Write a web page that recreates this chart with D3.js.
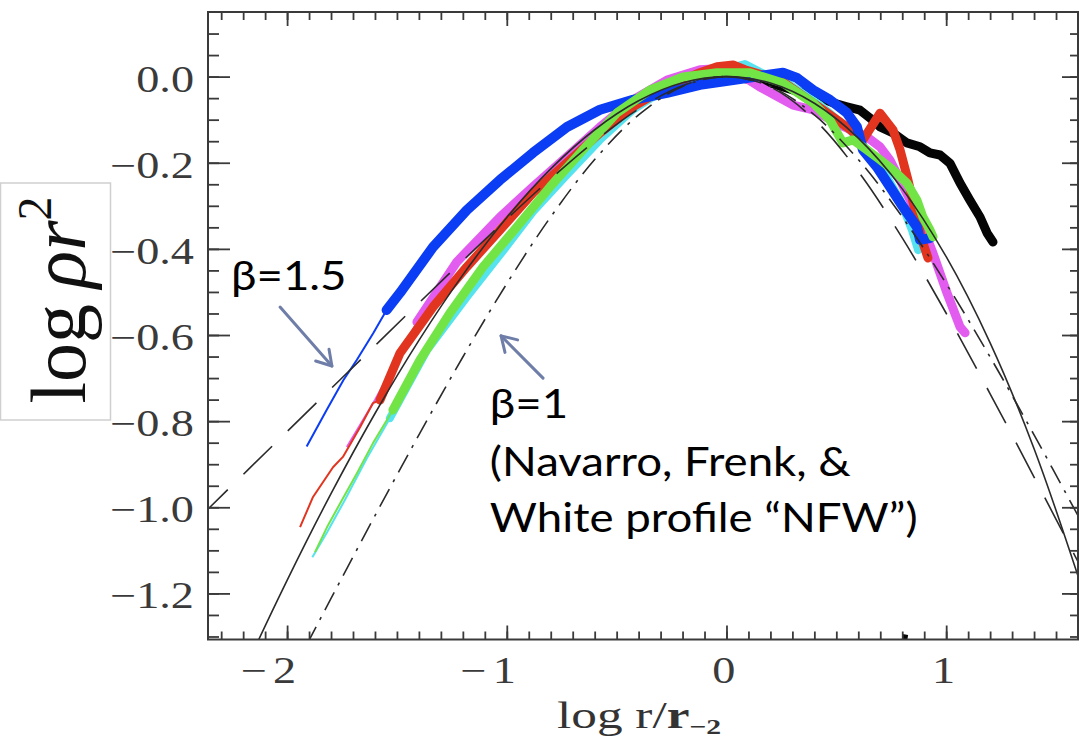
<!DOCTYPE html>
<html><head><meta charset="utf-8">
<script src="https://cdn.jsdelivr.net/npm/d3@7"></script>
<style>body{margin:0;background:#fff}svg{display:block}</style></head>
<body><svg id="c" width="1081" height="744"></svg>
<script>
// ---------- data ----------
const modelLogR = [-2.4,-2.2,-2.0,-1.8,-1.6,-1.4,-1.2,-1.0,-0.8,-0.6,-0.4,-0.2,0,0.2,0.4,0.6,0.8,1.0,1.2,1.4,1.6];
const einastoFit = [-1.6136,-1.3851,-1.1696,-0.9683,-0.7822,-0.6125,-0.4603,-0.3270,-0.2142,-0.1234,-0.0562,-0.0144,0,-0.0151,-0.0620,-0.1430,-0.2607,-0.4182,-0.6182,-0.8640,-1.1594];
const nfwBeta1 = [-1.8014,-1.6034,-1.4066,-1.2116,-1.0195,-0.8319,-0.6511,-0.4807,-0.3257,-0.1926,-0.0890,-0.0228,0,-0.0228,-0.0890,-0.1926,-0.3257,-0.4807,-0.6511,-0.8319,-1.0195];
const mooreBeta15 = [-1.0240,-0.9240,-0.8241,-0.7244,-0.6248,-0.5256,-0.4273,-0.3307,-0.2374,-0.1504,-0.0753,-0.0210,0,-0.0244,-0.0997,-0.2204,-0.3745,-0.5495,-0.7364,-0.9297,-1.1263];

const blueThin = [[-1.911,-0.859],[-1.820,-0.774],[-1.744,-0.705],[-1.683,-0.658],[-1.608,-0.596],[-1.547,-0.542]];
const blueThick = [[-1.547,-0.542],[-1.486,-0.502],[-1.336,-0.396],[-1.182,-0.310],[-1.031,-0.240],[-0.881,-0.177],[-0.726,-0.117],[-0.576,-0.077],[-0.426,-0.054],[-0.271,-0.038],[-0.121,-0.019],[0.030,-0.008],[0.184,0.004],[0.257,0.009],[0.321,-0.003],[0.394,-0.031],[0.471,-0.054],[0.548,-0.084],[0.594,-0.117],[0.621,-0.170],[0.685,-0.210],[0.744,-0.256],[0.803,-0.302],[0.867,-0.349],[0.881,-0.379],[0.926,-0.375]];

const redThin = [[-1.941,-1.046],[-1.882,-0.976],[-1.791,-0.907],[-1.746,-0.883],[-1.668,-0.814],[-1.609,-0.758],[-1.577,-0.751]];
const redThick = [[-1.577,-0.751],[-1.486,-0.642],[-1.336,-0.535],[-1.182,-0.442],[-1.031,-0.356],[-0.881,-0.270],[-0.726,-0.200],[-0.576,-0.131],[-0.426,-0.070],[-0.271,-0.024],[-0.121,0.009],[-0.043,0.023],[0.030,0.027],[0.084,0.016],[0.244,-0.008],[0.394,-0.061],[0.548,-0.117],[0.621,-0.147],[0.699,-0.085],[0.758,-0.124],[0.790,-0.170],[0.826,-0.240],[0.858,-0.310],[0.890,-0.379],[0.917,-0.421]];

const magentaThin = [[-1.728,-0.860],[-1.668,-0.809],[-1.600,-0.751],[-1.532,-0.688],[-1.464,-0.623],[-1.409,-0.570]];
const magentaThick = [[-1.409,-0.570],[-1.227,-0.430],[-1.031,-0.326],[-0.881,-0.256],[-0.726,-0.186],[-0.576,-0.117],[-0.426,-0.054],[-0.271,-0.008],[-0.121,0.016],[0.016,0.020],[0.152,-0.024],[0.303,-0.066],[0.394,-0.077],[0.516,-0.112],[0.639,-0.140],[0.699,-0.163],[0.744,-0.194],[0.790,-0.240],[0.835,-0.286],[0.881,-0.333],[0.940,-0.410],[1.004,-0.503],[1.063,-0.581],[1.086,-0.595]];

const greenThin = [[-1.873,-1.104],[-1.818,-1.046],[-1.750,-0.983],[-1.682,-0.921],[-1.609,-0.851],[-1.518,-0.774]];
const greenThick = [[-1.518,-0.774],[-1.395,-0.658],[-1.259,-0.549],[-1.108,-0.442],[-0.954,-0.349],[-0.803,-0.256],[-0.653,-0.170],[-0.498,-0.084],[-0.348,-0.031],[-0.198,-0.001],[-0.043,0.009],[0.107,0.009],[0.257,-0.015],[0.394,-0.061],[0.471,-0.101],[0.530,-0.154],[0.576,-0.147],[0.639,-0.170],[0.699,-0.193],[0.758,-0.217],[0.821,-0.247],[0.867,-0.287],[0.894,-0.326],[0.926,-0.356],[0.940,-0.372]];

const cyanThin = [[-1.885,-1.116],[-1.818,-1.058],[-1.737,-0.983],[-1.637,-0.886],[-1.532,-0.793]];
const cyanThick = [[-1.532,-0.793],[-1.363,-0.635],[-1.182,-0.512],[-1.031,-0.414],[-0.881,-0.314],[-0.726,-0.228],[-0.576,-0.147],[-0.426,-0.077],[-0.271,-0.026],[-0.121,0.004],[0.016,0.020],[0.084,0.029],[0.152,0.011],[0.289,-0.019],[0.426,-0.066],[0.562,-0.124],[0.699,-0.205],[0.790,-0.286],[0.844,-0.356],[0.872,-0.403]];

const blackThick = [[-0.440,-0.075],[-0.348,-0.045],[-0.212,-0.017],[-0.075,-0.003],[0.061,-0.003],[0.198,-0.015],[0.335,-0.036],[0.426,-0.049],[0.485,-0.061],[0.548,-0.070],[0.608,-0.078],[0.653,-0.096],[0.699,-0.117],[0.758,-0.131],[0.821,-0.154],[0.881,-0.163],[0.926,-0.177],[0.972,-0.182],[1.017,-0.201],[1.063,-0.247],[1.108,-0.287],[1.154,-0.326],[1.186,-0.363],[1.213,-0.384]];
const blackStray = [[0.800,-1.300],[0.825,-1.302]];

const xMajorTicks = [-2,-1,0,1];
const xTickLabels = ["\u22122","\u22121","0","1"];
const yMajorTicks = [0,-0.2,-0.4,-0.6,-0.8,-1.0,-1.2];
const yTickLabels = ["0.0","\u22120.2","\u22120.4","\u22120.6","\u22120.8","\u22121.0","\u22121.2"];

const annoText = ["\u03b2=1.5","\u03b2=1","(Navarro, Frenk, &","White profile \u201cNFW\u201d)"];
const annoTextPos = [[-2.255,-0.496],[-1.077,-0.793],[-1.077,-0.928],[-1.077,-1.058]];
const arrows = [ {from:[-2.032,-0.535], to:[-1.796,-0.672]}, {from:[-0.835,-0.700], to:[-1.026,-0.602]} ];

// ---------- layout ----------
const svg = d3.select("#c");
const L=208, R=1078, T=12, B=639.5;
const x = d3.scaleLinear().domain([-2.36,1.6]).range([L,R]);
const y = d3.scaleLinear().domain([-1.307,0.15]).range([B,T]);

svg.append("defs").append("clipPath").attr("id","clip")
  .append("rect").attr("x",L).attr("y",T).attr("width",R-L).attr("height",B-T);

const plot = svg.append("g").attr("clip-path","url(#clip)");
const lineLin = d3.line().x(d=>x(d[0])).y(d=>y(d[1])).curve(d3.curveLinear);
const lineSmooth = d3.line().x(d=>x(d[0])).y(d=>y(d[1])).curve(d3.curveCatmullRom);

const series = [
  {thin:null, thick:blackThick, color:"#050505", w:9},
  {thin:magentaThin, thick:magentaThick, color:"#e35cf0", w:9},
  {thin:cyanThin, thick:cyanThick, color:"#55e3ef", w:8},
  {thin:redThin, thick:redThick, color:"#e2351f", w:9},
  {thin:blueThin, thick:blueThick, color:"#0b3df5", w:10},
  {thin:greenThin, thick:greenThick, color:"#72e446", w:9}
];
series.forEach(s=>{
  if (s.thin) plot.append("path").datum(s.thin).attr("d",lineLin)
    .attr("fill","none").attr("stroke",s.color).attr("stroke-width",2).attr("stroke-linejoin","round");
  plot.append("path").datum(s.thick).attr("d",lineLin)
    .attr("fill","none").attr("stroke",s.color).attr("stroke-width",s.w)
    .attr("stroke-linejoin","round").attr("stroke-linecap","round");
});
svg.append("path").datum(blackStray).attr("d",lineLin).attr("fill","none")
  .attr("stroke","#050505").attr("stroke-width",5);

const models = [
  {v:einastoFit, dash:null},
  {v:nfwBeta1, dash:"20,8,3,8"},
  {v:mooreBeta15, dash:"40,22"}
];
models.forEach(m=>{
  plot.append("path").datum(modelLogR.map((r,i)=>[r,m.v[i]])).attr("d",lineSmooth)
    .attr("fill","none").attr("stroke","#2b2b2b").attr("stroke-width",1.6)
    .attr("stroke-dasharray",m.dash);
});

// ---------- axes ----------
const minorX = d3.range(-23,16).map(d=>d/10);
const minorY = d3.range(-26,3).map(d=>d/20);
function styleAxis(g){ g.select(".domain").remove(); g.selectAll("line").attr("stroke","#3a3a3a").attr("stroke-width",1.8); }
svg.append("g").attr("transform",`translate(0,${B})`).call(d3.axisBottom(x).tickValues(minorX).tickSize(-8).tickFormat("")).call(styleAxis);
svg.append("g").attr("transform",`translate(0,${B})`).call(d3.axisBottom(x).tickValues(xMajorTicks).tickSize(-14).tickFormat("")).call(styleAxis);
svg.append("g").attr("transform",`translate(0,${T})`).call(d3.axisTop(x).tickValues(minorX).tickSize(-8).tickFormat("")).call(styleAxis);
svg.append("g").attr("transform",`translate(0,${T})`).call(d3.axisTop(x).tickValues(xMajorTicks).tickSize(-14).tickFormat("")).call(styleAxis);
svg.append("g").attr("transform",`translate(${L},0)`).call(d3.axisLeft(y).tickValues(minorY).tickSize(-11).tickFormat("")).call(styleAxis);
svg.append("g").attr("transform",`translate(${L},0)`).call(d3.axisLeft(y).tickValues(yMajorTicks).tickSize(-22).tickFormat("")).call(styleAxis);
svg.append("g").attr("transform",`translate(${R},0)`).call(d3.axisRight(y).tickValues(minorY).tickSize(-8).tickFormat("")).call(styleAxis);
svg.append("g").attr("transform",`translate(${R},0)`).call(d3.axisRight(y).tickValues(yMajorTicks).tickSize(-16).tickFormat("")).call(styleAxis);
svg.append("rect").attr("x",L).attr("y",T).attr("width",R-L).attr("height",B-T)
  .attr("fill","none").attr("stroke","#3a3a3a").attr("stroke-width",2);

const tickFont = "'Liberation Serif', 'Times New Roman', serif";
svg.append("g").selectAll("text").data(yMajorTicks).join("text")
  .attr("transform",(d)=>`translate(194,${y(d)+15}) scale(1.25,1)`)
  .attr("text-anchor","end").attr("font-family",tickFont).attr("font-size",37).attr("fill","#3a3a3a")
  .text((d,i)=>yTickLabels[i]);
const xl = svg.append("g").selectAll("text").data(xMajorTicks).join("text")
  .attr("transform",(d)=>`translate(${x(d)+9},683) scale(1.25,1)`)
  .attr("text-anchor","end").attr("font-family",tickFont).attr("font-size",37).attr("fill","#3a3a3a");
xl.each(function(d,i){
  const s = xTickLabels[i], t = d3.select(this);
  if (s[0]==="\u2212"){ t.append("tspan").text("\u2212"); t.append("tspan").attr("dx",5).text(s.slice(1)); }
  else t.text(s);
});

// x title
const xt = svg.append("text").attr("transform","translate(557,728) scale(1.35,1)")
  .attr("font-family",tickFont).attr("font-size",38).attr("fill","#333");
xt.append("tspan").text("log r/");
xt.append("tspan").attr("font-weight","bold").text("r");
xt.append("tspan").attr("font-size",22).attr("font-weight","bold").attr("dy",6).text("\u22122");

// y title box
svg.append("rect").attr("x",0.5).attr("y",183).attr("width",110).attr("height",237)
  .attr("fill","#fff").attr("stroke","#cfcfcf").attr("stroke-width",1.5);
const yt = svg.append("text").attr("transform","translate(85,300) rotate(-90)")
  .attr("text-anchor","middle").attr("font-family",tickFont).attr("font-size",78).attr("fill","#111");
yt.append("tspan").text("log\u2009");
yt.append("tspan").attr("font-style","italic").text("\u03c1r");
yt.append("tspan").attr("font-size",48).attr("dy",-34).text("2");

// annotations
const annoFont = "Lato, 'Open Sans', sans-serif";
svg.append("g").selectAll("text").data(annoText).join("text")
  .attr("transform",(d,i)=>`translate(${x(annoTextPos[i][0])},${y(annoTextPos[i][1])}) scale(1.14,1)`)
  .attr("font-family",annoFont).attr("font-size",40).attr("fill","#000").text(d=>d);

arrows.forEach(a=>{
  const x1=x(a.from[0]), y1=y(a.from[1]), x2=x(a.to[0]), y2=y(a.to[1]);
  const ang=Math.atan2(y2-y1,x2-x1), hl=17, ha=0.55;
  const p1=[x2-hl*Math.cos(ang-ha), y2-hl*Math.sin(ang-ha)];
  const p2=[x2-hl*Math.cos(ang+ha), y2-hl*Math.sin(ang+ha)];
  const g=svg.append("g").attr("fill","none").attr("stroke","#6f7ea8").attr("stroke-width",3).attr("stroke-linecap","round").attr("stroke-linejoin","round");
  g.append("path").attr("d",`M${x1},${y1}L${x2},${y2}`);
  g.append("path").attr("d",`M${p1[0]},${p1[1]}L${x2},${y2}L${p2[0]},${p2[1]}`);
});
</script>
</body></html>
